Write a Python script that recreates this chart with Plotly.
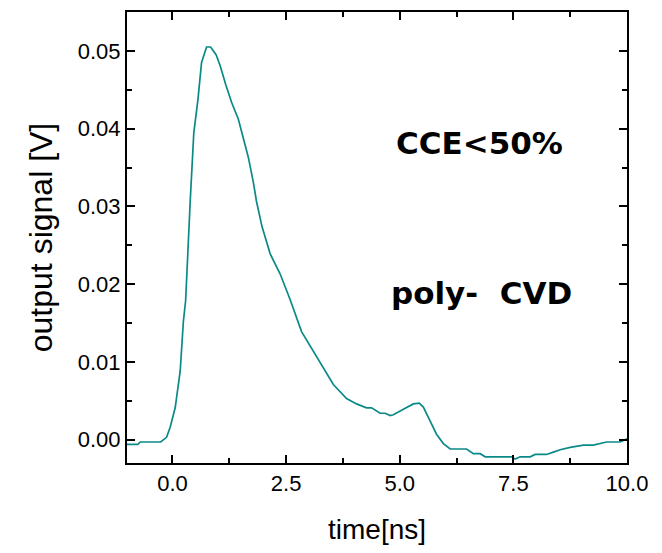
import plotly.graph_objects as go

# Time axis (ns) and detector output signal (V)
time_ns = [-1.0, -0.76, -0.71, -0.26, -0.13, -0.05, 0.06, 0.17, 0.24, 0.29, 0.39, 0.47,
           0.56, 0.64, 0.75, 0.84, 0.96, 1.05, 1.17, 1.30, 1.45, 1.56, 1.67, 1.78, 1.85,
           1.97, 2.15, 2.37, 2.59, 2.84, 3.06, 3.28, 3.54, 3.83, 4.05, 4.27, 4.38, 4.57,
           4.68, 4.79, 4.86, 5.08, 5.30, 5.43, 5.52, 5.67, 5.81, 5.96, 6.11, 6.47, 6.62,
           6.77, 6.88, 7.46, 7.54, 7.65, 7.87, 7.98, 8.23, 8.38, 8.53, 8.75, 9.04, 9.26,
           9.55, 9.85, 10.0]
signal_v = [-0.0006, -0.0006, -0.0003, -0.0003, 0.0003, 0.0016, 0.0041, 0.0088, 0.0152,
            0.0179, 0.0306, 0.0395, 0.0437, 0.0485, 0.0505, 0.0505, 0.0495, 0.0481, 0.0457,
            0.0434, 0.0412, 0.0389, 0.0363, 0.0331, 0.0306, 0.0274, 0.0239, 0.0213, 0.0180,
            0.0139, 0.0118, 0.0097, 0.0071, 0.0053, 0.0046, 0.0041, 0.0041, 0.0034, 0.0034,
            0.0031, 0.0032, 0.0039, 0.0046, 0.0047, 0.0042, 0.0024, 0.0007, -0.0005, -0.0012,
            -0.0012, -0.0018, -0.0018, -0.0022, -0.0022, -0.0025, -0.0022, -0.0022, -0.0019,
            -0.0019, -0.0016, -0.0013, -0.0010, -0.0007, -0.0007, -0.0003, -0.0003, 0.0001]

x_range = [-1.0, 10.0]
y_range = [-0.003, 0.055]
x_ticks = [0.0, 2.5, 5.0, 7.5, 10.0]
y_ticks = [0.00, 0.01, 0.02, 0.03, 0.04, 0.05]

annotations_text = ["CCE<50%", "poly-&nbsp; CVD"]
annotations_pos = [(6.75, 0.0381), (6.8, 0.0189)]

tick_font = dict(family="Liberation Sans, Arial", size=22, color="black")
xtitle_font = dict(family="Liberation Sans, Arial", size=28, color="black")
ytitle_font = dict(family="Liberation Sans, Arial", size=32, color="black")

fig = go.Figure()
fig.add_trace(go.Scatter(x=time_ns, y=signal_v, mode="lines",
                         line=dict(color="#0a8a87", width=1.7), showlegend=False))

for txt, (xa, ya) in zip(annotations_text, annotations_pos):
    fig.add_annotation(x=xa, y=ya, text=f"<b>{txt}</b>", showarrow=False,
                       font=dict(family="Comic Sans MS, DejaVu Sans", size=31, color="black"))

axis_common = dict(showline=True, linecolor="black", linewidth=2, mirror="allticks",
                   ticks="inside", ticklen=8, tickwidth=1.5, tickcolor="black",
                   showgrid=False, zeroline=False, tickfont=tick_font)

fig.update_xaxes(range=x_range, tickvals=x_ticks, ticktext=[f"{v:.1f}" for v in x_ticks],
                 title=dict(text="time[ns]", font=xtitle_font, standoff=24),
                 minor=dict(dtick=1.25, tick0=0, ticks="inside", ticklen=5, tickcolor="black"),
                 **axis_common)
fig.update_yaxes(range=y_range, tickvals=y_ticks, ticktext=[f"{v:.2f}" for v in y_ticks],
                 title=dict(text="output signal [V]", font=ytitle_font, standoff=16),
                 minor=dict(dtick=0.005, tick0=0, ticks="inside", ticklen=5, tickcolor="black"),
                 **axis_common)

fig.update_layout(width=662, height=553, margin=dict(l=127, r=35, t=10, b=90),
                  plot_bgcolor="white", paper_bgcolor="white")

fig.write_html("out.html")
